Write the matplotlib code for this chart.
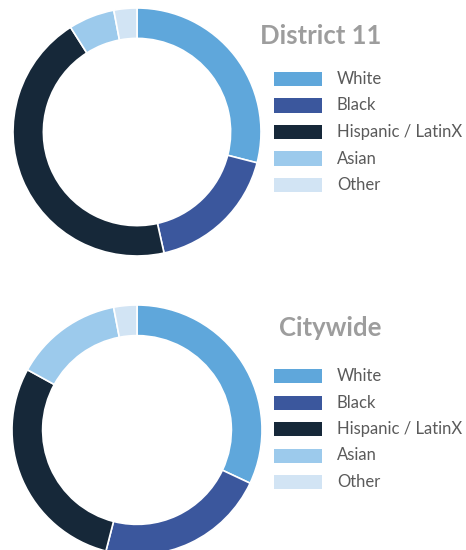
import matplotlib
matplotlib.use("Agg")
import matplotlib.pyplot as plt
from matplotlib.patches import Rectangle

plt.rcParams['font.family'] = ['Lato', 'DejaVu Sans']

categories = ["White", "Black", "Hispanic / LatinX", "Asian", "Other"]
district11 = [29, 17.5, 44.5, 6, 3]
citywide = [32, 22, 29, 14, 3]
titles = ["District 11", "Citywide"]
colors = ["#5fa7db", "#3b579d", "#162839", "#9ccaec", "#d2e4f4"]

W, H = 466, 550
fig = plt.figure(figsize=(W / 100, H / 100), dpi=100)

def px_axes(left, top, w, h):
    return fig.add_axes([left / W, (H - top - h) / H, w / W, h / H])

panels = [
    dict(values=district11, title=titles[0], cx=137, cy=132, r=124, title_y=36, rows_y=79),
    dict(values=citywide, title=titles[1], cx=137, cy=430, r=125, title_y=328, rows_y=376),
]

for p in panels:
    ax = px_axes(p['cx'] - p['r'], p['cy'] - p['r'], 2 * p['r'], 2 * p['r'])
    ax.pie(p['values'], colors=colors, startangle=90, counterclock=False,
           radius=1, wedgeprops=dict(width=0.245, edgecolor='white', linewidth=1.2))
    ax.set_xlim(-1, 1)
    ax.set_ylim(-1, 1)
    ax.set_aspect('equal')
    ax.axis('off')

    fig.text(381 / W, 1 - p['title_y'] / H, p['title'], ha='right', va='center',
             fontsize=18.5, fontweight='bold', color='#9d9d9d')
    for i, (lab, col) in enumerate(zip(categories, colors)):
        yc = p['rows_y'] + i * 26.5
        fig.patches.append(Rectangle((274 / W, 1 - (yc + 7) / H), 48 / W, 14 / H,
                                     transform=fig.transFigure, facecolor=col,
                                     edgecolor='none'))
        fig.text(337 / W, 1 - yc / H, lab, ha='left', va='center',
                 fontsize=12, color='#5a5a5a')

fig.savefig("out.png", dpi=100)
